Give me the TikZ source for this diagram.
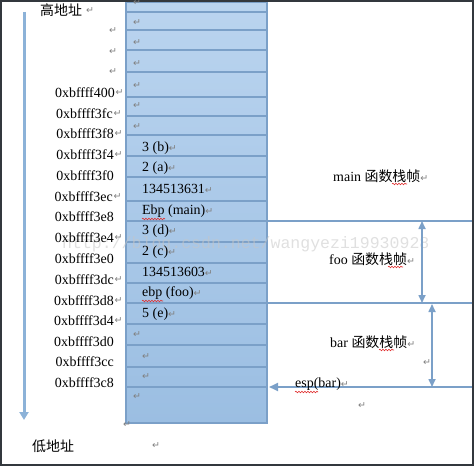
\documentclass[tikz,border=0pt]{standalone}
\usepackage{fontspec}
\setmainfont{Liberation Serif}
\newfontfamily\cjk{Noto Sans CJK SC}
\newfontfamily\dejavu{DejaVu Sans}
\newfontfamily\wmfont{Liberation Mono}
\usetikzlibrary{arrows.meta,decorations.pathmorphing}
\definecolor{framedark}{HTML}{33383D}
\definecolor{celltop}{HTML}{BAD4EF}
\definecolor{cellbot}{HTML}{9BBEE2}
\definecolor{cellline}{HTML}{7BA0C8}
\definecolor{axisblue}{HTML}{8CB2D8}
\definecolor{retgray}{HTML}{808080}
\definecolor{spellred}{HTML}{E03030}
\newcommand{\retm}{\textcolor{retgray}{\dejavu\fontsize{9.5}{9.5}\selectfont ↵}}
\tikzset{
  txt/.style={inner sep=0pt, font=\fontsize{14}{16}\selectfont},
  addr/.style={txt, anchor=east},
  cell/.style={txt, anchor=west},
  ret/.style={inner sep=0pt, text=retgray, font=\dejavu\fontsize{9.5}{9.5}\selectfont},
  rowline/.style={cellline, line width=1.5bp},
  sideline/.style={cellline, line width=1.8bp},
  dbl/.style={cellline, line width=1.6bp, {Triangle[width=7bp,length=8bp]}-{Triangle[width=7bp,length=8bp]}},
  spell/.style={spellred, line width=0.6bp, decorate, decoration={snake, segment length=3bp, amplitude=0.8bp}},
}
\begin{document}
\begin{tikzpicture}[x=1bp,y=-1bp]
\useasboundingbox (0,0) rectangle (474,466);
% stack column
\node (stack) [draw=cellline, line width=2bp, top color=celltop, bottom color=cellbot,
  minimum width=141bp, minimum height=421bp, inner sep=0pt, anchor=north west] at (125,1) {};
\foreach \y in {12,30,50,72,97,116,135,156,177,201,221,242,263,283,303,324,345,367,387}
  \draw[rowline] (125,\y) -- (266,\y);
% watermark
\node (wm) [inner sep=0pt, anchor=west, text=gray!45, opacity=0.55, font=\wmfont\fontsize{16.6}{18}\selectfont] at (62,244) {http://blog.csdn.net/wangyezi19930928};
% outer frame
\draw[framedark, line width=2bp] (1,1) rectangle (473,465);
% address axis
\coordinate (hi) at (24,12);
\coordinate (lo) at (24,420);
\draw[axisblue, line width=3bp, -{Triangle[width=9bp,length=8bp]}] (hi) -- (lo);
\node (high) [txt, anchor=west, font=\cjk\fontsize{14}{16}\selectfont] at (40,10) {高地址};
\node (low) [txt, anchor=west, font=\cjk\fontsize{14}{16}\selectfont] at (32,446) {低地址};
\node[ret] at (90,11) {↵};
\node[ret] at (156,446) {↵};
% addresses
\node (a400) [addr] at (115,93) {0xbffff400};
\node (a3fc) [addr] at (113,114) {0xbffff3fc};
\node (a3f8) [addr] at (114,134) {0xbffff3f8};
\node (a3f4) [addr] at (114,155) {0xbffff3f4};
\node (a3f0) [addr] at (114,176) {0xbffff3f0};
\node (a3ec) [addr] at (113,197) {0xbffff3ec};
\node (a3e8) [addr] at (114,217) {0xbffff3e8};
\node (a3e4) [addr] at (114,238) {0xbffff3e4};
\node (a3e0) [addr] at (114,259) {0xbffff3e0};
\node (a3dc) [addr] at (114,280) {0xbffff3dc};
\node (a3d8) [addr] at (114,301) {0xbffff3d8};
\node (a3d4) [addr] at (114,321) {0xbffff3d4};
\node (a3d0) [addr] at (114,342) {0xbffff3d0};
\node (a3cc) [addr] at (114,362) {0xbffff3cc};
\node (a3c8) [addr] at (114,383) {0xbffff3c8};
\foreach \n in {a400,a3fc,a3f8,a3f4,a3ec,a3e4,a3dc,a3d8,a3d4}
  \node[ret, anchor=west] at ([xshift=0.5bp]\n.east) {↵};
\foreach \y in {31,52,72}
  \node[ret] at (113,\y) {↵};
% stack cells
\foreach \y in {3,23,43,64,86,106,127,335,397}
  \node[ret] at (137,\y) {↵};
\foreach \y in {357,377}
  \node[ret] at (146,\y) {↵};
\node[ret] at (127,425) {↵};
\node (c3b) [cell] at (142,148) {3 (b)\retm};
\node (c2a) [cell] at (142,168) {2 (a)\retm};
\node (cr1) [cell] at (142,189) {134513631\retm};
\node (cebm) [cell] at (142,211) {Ebp (main)\retm};
\node (c3d) [cell] at (142,231) {3 (d)\retm};
\node (c2c) [cell] at (142,252) {2 (c)\retm};
\node (cr2) [cell] at (142,272) {134513603\retm};
\node (cebf) [cell] at (142,293) {ebp (foo)\retm};
\node (c5e) [cell] at (142,314) {5 (e)\retm};
\draw[spell] (142,219) -- (165,219);
\draw[spell] (142,301) -- (163,301);
% frame boundaries on the right
\coordinate (mainend) at (472,221);
\coordinate (fooend) at (472,303);
\coordinate (barend) at (472,387);
\draw[sideline] (stack.east |- mainend) -- (mainend);
\draw[sideline] (stack.east |- fooend) -- (fooend);
\draw[sideline, -{Triangle[width=8bp,length=9bp]}] (barend) -- ([xshift=1bp]stack.east |- barend);
\coordinate (fa) at (422,221);
\coordinate (fb) at (422,303);
\coordinate (ba) at (432,304);
\coordinate (bb) at (432,387);
\draw[dbl] (fa) -- (fb);
\draw[dbl] (ba) -- (bb);
% frame labels
\node (lmain) [cell] at (333,176) {main {\cjk 函数栈帧}\retm};
\node (lfoo) [cell] at (329,259) {foo {\cjk 函数栈帧}\retm};
\node (lbar) [cell] at (330,342) {bar {\cjk 函数栈帧}\retm};
\node (lesp) [cell] at (295,384) {esp(bar)\retm};
\draw[spell] (392,184) -- (407,184);
\draw[spell] (388,267) -- (403,267);
\draw[spell] (379,350) -- (394,350);
\draw[spell] (295,392) -- (318,392);
\node[ret] at (427,363) {↵};
\node[ret] at (362,406) {↵};
\end{tikzpicture}
\end{document}
